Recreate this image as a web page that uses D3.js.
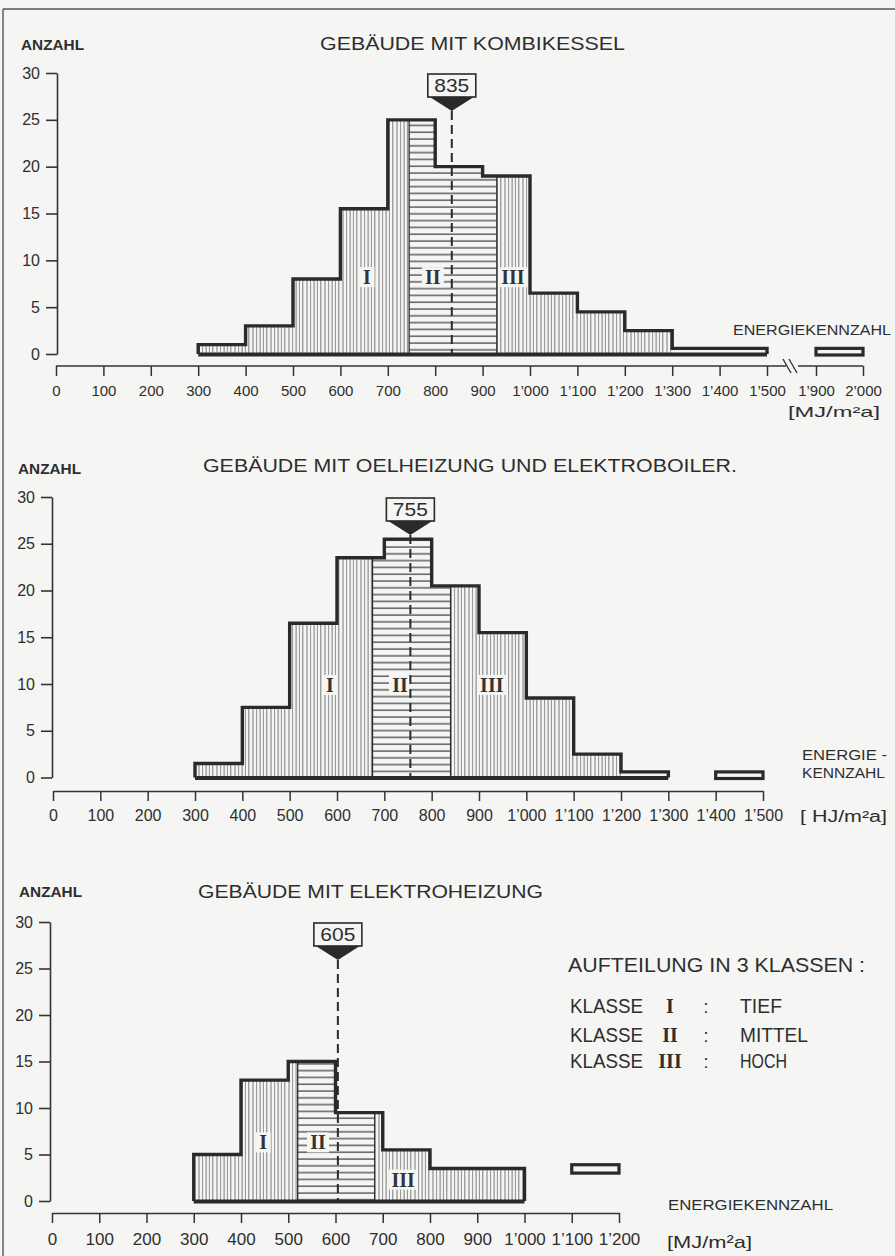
<!DOCTYPE html>
<html><head><meta charset="utf-8">
<script src="https://cdn.jsdelivr.net/npm/d3@7"></script>
<style>body{margin:0;background:#f5f5f3}svg{display:block}</style>
</head><body><svg id="c" width="895" height="1256"></svg>
<script>
// ---------- DATA ----------
const yTicks = [0, 5, 10, 15, 20, 25, 30];

// Chart 1: Gebäude mit Kombikessel
const c1Title = "GEBÄUDE MIT KOMBIKESSEL";
const c1Edges = [300, 400, 500, 600, 700, 800, 900, 1000, 1100, 1200, 1300, 1500];
const c1Counts = [1, 3, 8, 15.5, 25, 20, 19, 6.5, 4.5, 2.5, 0.6];
const c1Classes = [[300, 745], [745, 930], [930, 1300]];
const c1Median = 835;
const c1Single = [[1900, 2000, 0.6]];
const c1XTicks = [0, 100, 200, 300, 400, 500, 600, 700, 800, 900, 1000, 1100, 1200, 1300, 1400, 1500, 1900, 2000];
const c1LabelPos = [[656, 8.2], [795, 8.2], [964, 8.2]];

// Chart 2: Gebäude mit Oelheizung und Elektroboiler
const c2Title = "GEBÄUDE MIT OELHEIZUNG UND ELEKTROBOILER.";
const c2Edges = [300, 400, 500, 600, 700, 800, 900, 1000, 1100, 1200, 1300];
const c2Counts = [1.5, 7.5, 16.5, 23.5, 25.5, 20.5, 15.5, 8.5, 2.5, 0.6];
const c2Classes = [[300, 675], [675, 840], [840, 1200]];
const c2Median = 755;
const c2Single = [[1400, 1500, 0.6]];
const c2XTicks = [0, 100, 200, 300, 400, 500, 600, 700, 800, 900, 1000, 1100, 1200, 1300, 1400, 1500];
const c2LabelPos = [[585, 9.9], [733, 9.9], [927, 9.9]];

// Chart 3: Gebäude mit Elektroheizung
const c3Title = "GEBÄUDE MIT ELEKTROHEIZUNG";
const c3Edges = [300, 400, 500, 600, 700, 800, 1000];
const c3Counts = [5, 13, 15, 9.5, 5.5, 3.5];
const c3Classes = [[300, 520], [520, 683], [683, 1000]];
const c3Median = 605;
const c3Symbol = [1100, 1200, 3.0, 3.9];
const c3XTicks = [0, 100, 200, 300, 400, 500, 600, 700, 800, 900, 1000, 1100, 1200];
const c3LabelPos = [[447, 6.3], [563, 6.3], [743, 2.3]];

const classNames = ["I", "II", "III"];
const legendRows = [["I", "TIEF"], ["II", "MITTEL"], ["III", "HOCH"]];

// ---------- DRAWING ----------
const BG = "#f5f5f3", INK = "#2a2a2a";
const FONT = "'Liberation Sans', Arial, sans-serif";
const SERIF = "'Liberation Serif', 'DejaVu Serif', serif";
const svg = d3.select("#c");
svg.append("rect").attr("width", 895).attr("height", 1256).attr("fill", BG);

const defs = svg.append("defs");
const pv = defs.append("pattern").attr("id", "vh").attr("patternUnits", "userSpaceOnUse")
  .attr("width", 18).attr("height", 40);
[1, 4.6, 8.1, 11.4, 14.8].forEach((x, i) => pv.append("line")
  .attr("x1", x).attr("x2", x).attr("y1", 0).attr("y2", 40)
  .attr("stroke", i % 2 ? "#858585" : "#6a6a6a").attr("stroke-width", 0.9));
const ph = defs.append("pattern").attr("id", "hh").attr("patternUnits", "userSpaceOnUse")
  .attr("width", 40).attr("height", 6.8);
ph.append("line").attr("x1", 0).attr("x2", 40).attr("y1", 3).attr("y2", 3)
  .attr("stroke", "#3c3c3c").attr("stroke-width", 1.2);
const fills = ["url(#vh)", "url(#hh)", "url(#vh)"];

// page border
svg.append("line").attr("x1", 3).attr("x2", 895).attr("y1", 9).attr("y2", 9).attr("stroke", "#555").attr("stroke-width", 1.4);
svg.append("line").attr("x1", 3).attr("x2", 3).attr("y1", 9).attr("y2", 1256).attr("stroke", "#555").attr("stroke-width", 1.4);

function fmt(v) {
  return v >= 1000 ? Math.floor(v / 1000) + "’" + String(v % 1000).padStart(3, "0") : String(v);
}

function txt(g, s, x, y, size, opts = {}) {
  const t = g.append("text").attr("x", x).attr("y", y).text(s)
    .attr("font-family", opts.family || FONT).attr("font-size", size)
    .attr("fill", opts.fill || "#2e2e2e").attr("text-anchor", opts.anchor || "start");
  if (opts.len) t.attr("textLength", opts.len).attr("lengthAdjust", "spacingAndGlyphs");
  if (opts.weight) t.attr("font-weight", opts.weight);
  return t;
}

function drawChart(cfg, id) {
  const g = svg.append("g");
  const x = d3.scaleLinear().domain(cfg.xDomain).range(cfg.xRange);
  const y = d3.scaleLinear().domain([0, 30]).range(cfg.yRange);
  const E = cfg.edges, C = cfg.counts;
  const pts = [[E[0], 0]];
  C.forEach((c, i) => { pts.push([E[i], c]); pts.push([E[i + 1], c]); });
  pts.push([E[E.length - 1], 0]);
  const line = d3.line().x(d => x(d[0])).y(d => y(d[1]));
  cfg.classes.forEach((cl, i) => {
    const cpId = "cp" + id + "_" + i;
    defs.append("clipPath").attr("id", cpId).append("rect")
      .attr("x", x(cl[0])).attr("y", 0).attr("width", x(cl[1]) - x(cl[0])).attr("height", 1256);
    g.append("path").attr("d", line(pts) + "Z").attr("fill", fills[i]).attr("clip-path", `url(#${cpId})`);
  });
  function countAt(v) { for (let i = 0; i < C.length; i++) if (v >= E[i] && v <= E[i + 1]) return C[i]; return 0; }
  cfg.classes.slice(1).forEach(cl => {
    g.append("line").attr("x1", x(cl[0])).attr("x2", x(cl[0])).attr("y1", y(0)).attr("y2", y(countAt(cl[0])))
      .attr("stroke", INK).attr("stroke-width", 1.3);
  });
  cfg.labelPos.forEach((p, i) => {
    const w = 8 + classNames[i].length * 7;
    g.append("rect").attr("x", x(p[0]) - w / 2).attr("y", y(p[1]) - 10).attr("width", w).attr("height", 20).attr("fill", BG);
    txt(g, classNames[i], x(p[0]), y(p[1]) + 7, 20, { anchor: "middle", family: SERIF, weight: "bold", fill: "#333" });
  });
  const mx = x(cfg.median), top = y(30);
  g.append("line").attr("x1", mx).attr("x2", mx).attr("y1", top + 38).attr("y2", y(0))
    .attr("stroke", INK).attr("stroke-width", 2).attr("stroke-dasharray", "9,5");
  g.append("path").attr("d", `M${mx - 22},${top + 24}L${mx + 22},${top + 24}L${mx},${top + 38}Z`).attr("fill", INK);
  g.append("rect").attr("x", mx - 24).attr("y", top + 1).attr("width", 48).attr("height", 23)
    .attr("fill", BG).attr("stroke", INK).attr("stroke-width", 1.6);
  txt(g, String(cfg.median), mx, top + 19, 18, { anchor: "middle", len: 35 });
  g.append("path").attr("d", line(pts)).attr("fill", "none").attr("stroke", INK)
    .attr("stroke-width", 3.4).attr("stroke-linejoin", "miter");
  g.append("line").attr("x1", x(E[0])).attr("x2", x(E[E.length - 1])).attr("y1", y(0) + 0.5).attr("y2", y(0) + 0.5)
    .attr("stroke", INK).attr("stroke-width", 4);
  (cfg.single || []).forEach(s => {
    g.append("rect").attr("x", x(s[0])).attr("y", y(s[2])).attr("width", x(s[1]) - x(s[0])).attr("height", y(0) - y(s[2]) + 1)
      .attr("fill", BG).attr("stroke", INK).attr("stroke-width", 3.2);
  });
  const ya = g.append("g").attr("transform", `translate(${cfg.yAxisX},0)`)
    .call(d3.axisLeft(y).tickValues(yTicks).tickSize(11).tickSizeOuter(0).tickPadding(6));
  ya.selectAll("path,line").attr("stroke", "#333").attr("stroke-width", 1.6);
  ya.selectAll("text").attr("font-family", FONT).attr("font-size", 16).attr("fill", "#2e2e2e");
  const xa = g.append("g").attr("transform", `translate(0,${cfg.xAxisY})`)
    .call(d3.axisBottom(x).tickValues(cfg.xTicks).tickSize(10).tickSizeOuter(0).tickPadding(cfg.xPad).tickFormat(fmt));
  xa.selectAll("line").attr("stroke", "#333").attr("stroke-width", 1.5);
  xa.selectAll("text").attr("font-family", FONT).attr("font-size", cfg.xFont).attr("fill", "#2e2e2e");
  if (cfg.brk) {
    xa.select(".domain").remove();
    const b = cfg.brk;
    xa.append("line").attr("x1", x(0)).attr("x2", b[0]).attr("y1", 0).attr("y2", 0).attr("stroke", "#333").attr("stroke-width", 1.6);
    xa.append("line").attr("x1", b[1]).attr("x2", x(2000)).attr("y1", 0).attr("y2", 0).attr("stroke", "#333").attr("stroke-width", 1.6);
    [0, 6].forEach(o => xa.append("line").attr("x1", b[0] - 3 + o).attr("x2", b[0] + 5 + o).attr("y1", -7).attr("y2", 7)
      .attr("stroke", "#333").attr("stroke-width", 1.4));
  } else {
    xa.select(".domain").attr("stroke", "#333").attr("stroke-width", 1.6);
  }
  txt(g, "ANZAHL", cfg.anz[0], cfg.anz[1], 15, { len: 63, weight: "bold" });
  txt(g, cfg.title, cfg.t[0], cfg.t[1], 18, { len: cfg.t[2] });
  return { g, x, y };
}

const ch1 = drawChart({
  edges: c1Edges, counts: c1Counts, classes: c1Classes, median: c1Median, single: c1Single,
  xDomain: [0, 1500, 1900, 2000], xRange: [56, 767, 816, 863], yRange: [354, 73],
  yAxisX: 57, xAxisY: 366, xTicks: c1XTicks, xPad: 9, xFont: 15, labelPos: c1LabelPos,
  anz: [21, 50], title: c1Title, t: [320, 50, 305], brk: [786, 798]
}, 1);
txt(ch1.g, "ENERGIEKENNZAHL", 733, 335, 14, { len: 158 });
txt(ch1.g, "[MJ/m²a]", 788, 417, 15, { len: 92 });

const ch2 = drawChart({
  edges: c2Edges, counts: c2Counts, classes: c2Classes, median: c2Median, single: c2Single,
  xDomain: [0, 1500], xRange: [53, 763], yRange: [777.5, 497],
  yAxisX: 52, xAxisY: 791, xTicks: c2XTicks, xPad: 9, xFont: 16, labelPos: c2LabelPos,
  anz: [18, 474], title: c2Title, t: [203, 472, 534]
}, 2);
txt(ch2.g, "ENERGIE -", 802, 760, 14, { len: 85 });
txt(ch2.g, "KENNZAHL", 802, 778, 14, { len: 83 });
txt(ch2.g, "[ HJ/m²a]", 800, 822, 16, { len: 87 });

const ch3 = drawChart({
  edges: c3Edges, counts: c3Counts, classes: c3Classes, median: c3Median,
  xDomain: [0, 1200], xRange: [52, 619], yRange: [1201, 922],
  yAxisX: 50, xAxisY: 1213, xTicks: c3XTicks, xPad: 10, xFont: 17, labelPos: c3LabelPos,
  anz: [19, 897], title: c3Title, t: [198, 898, 345]
}, 3);
ch3.g.append("rect").attr("x", ch3.x(c3Symbol[0])).attr("y", ch3.y(c3Symbol[3]))
  .attr("width", ch3.x(c3Symbol[1]) - ch3.x(c3Symbol[0])).attr("height", ch3.y(c3Symbol[2]) - ch3.y(c3Symbol[3]))
  .attr("fill", BG).attr("stroke", INK).attr("stroke-width", 3.2);
txt(ch3.g, "ENERGIEKENNZAHL", 668, 1210, 14, { len: 165 });
txt(ch3.g, "[MJ/m²a]", 667, 1248, 17, { len: 85 });

// legend
const lg = svg.append("g");
txt(lg, "AUFTEILUNG IN 3 KLASSEN :", 568, 972, 20, { len: 297 });
legendRows.forEach((r, i) => {
  const by = [1013, 1042, 1068][i];
  txt(lg, "KLASSE", 570, by, 20, { len: 73 });
  txt(lg, r[0], 670, by, 20, { anchor: "middle", family: SERIF, weight: "bold" });
  txt(lg, ":", 706, by, 18, { anchor: "middle" });
  txt(lg, r[1], 740, by, 20, { len: [42, 68, 47][i] });
});
</script></body></html>
